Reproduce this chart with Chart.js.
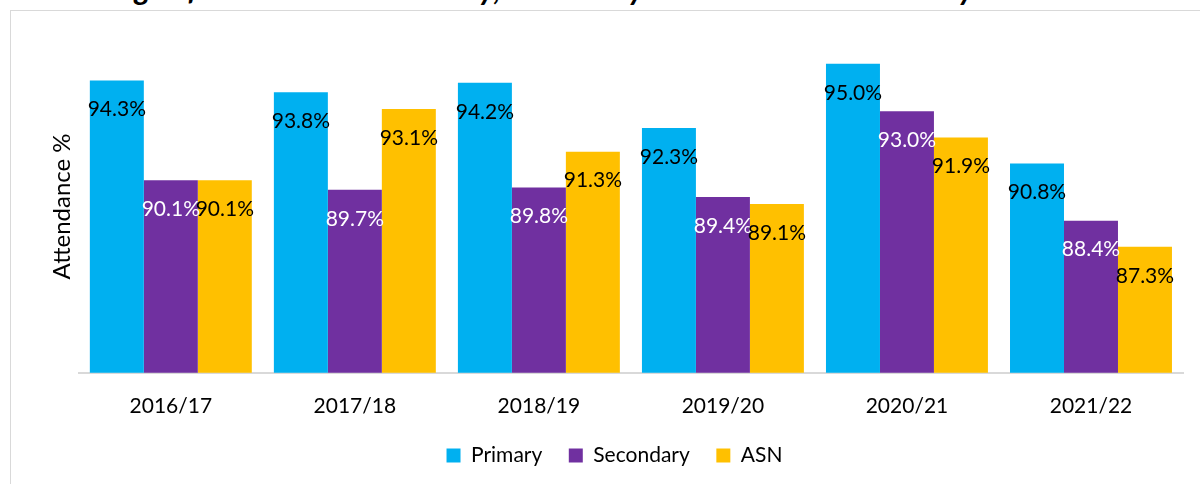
<!DOCTYPE html>
<html>
<head>
<meta charset="utf-8">
<script src="https://cdn.jsdelivr.net/npm/chart.js@4/dist/chart.umd.min.js"></script>
<style>
  html, body { margin: 0; padding: 0; background: #fff; overflow: hidden; }
  #wrap { position: relative; width: 1200px; height: 484px; overflow: hidden; }
  #frame { position: absolute; left: 10px; top: 10px; width: 1300px; height: 600px; border: 1px solid #d9d9d9; box-sizing: border-box; }
  #title { position: absolute; left: 19px; top: -31px; line-height: 31px; font: italic bold 31px Lato, sans-serif; color: #000; white-space: nowrap; }
  #attendanceChart { position: absolute; left: 0; top: 0; }
</style>
</head>
<body>
<div id="wrap">
  <div id="title">Percentage of Attendance in Primary, Secondary and ASN schools over 6 years</div>
  <div id="frame"></div>
  <canvas id="attendanceChart" width="1200" height="484"></canvas>
</div>
<script>
const YEARS = ['2016/17', '2017/18', '2018/19', '2019/20', '2020/21', '2021/22'];
const PRIMARY = [94.3, 93.8, 94.2, 92.3, 95.0, 90.8];
const SECONDARY = [90.1, 89.7, 89.8, 89.4, 93.0, 88.4];
const ASN = [90.1, 93.1, 91.3, 89.1, 91.9, 87.3];
const Y_MIN = 82;
const Y_MAX = 96;

const FONT = 'Lato, sans-serif';

// Excel-style "inside end" labels
const barLabels = {
  id: 'barLabels',
  afterDatasetsDraw(chart) {
    const { ctx } = chart;
    ctx.save();
    ctx.font = `21px ${FONT}`;
    ctx.textAlign = 'center';
    ctx.textBaseline = 'middle';
    chart.data.datasets.forEach((ds, i) => {
      const meta = chart.getDatasetMeta(i);
      meta.data.forEach((bar, j) => {
        ctx.fillStyle = ds.labelColor;
        ctx.fillText(ds.data[j].toFixed(1) + '%', bar.x, bar.y + 29);
      });
    });
    ctx.restore();
  },
};

new Chart(document.getElementById('attendanceChart'), {
  type: 'bar',
  data: {
    labels: YEARS,
    datasets: [
      { label: 'Primary', data: PRIMARY, backgroundColor: '#00B0F0', labelColor: '#000' },
      { label: 'Secondary', data: SECONDARY, backgroundColor: '#7030A0', labelColor: '#fff' },
      { label: 'ASN', data: ASN, backgroundColor: '#FFC000', labelColor: '#000' },
    ],
  },
  options: {
    responsive: false,
    animation: false,
    devicePixelRatio: 1,
    categoryPercentage: 0.88,
    barPercentage: 1.0,
    layout: { padding: { left: 46, right: 17, top: 40, bottom: 8 } },
    plugins: {
      tooltip: { enabled: false },
      legend: {
        position: 'bottom',
        labels: {
          boxWidth: 14, boxHeight: 14, padding: 5, color: '#000',
          font: { family: FONT, size: 21 },
          // small padding keeps the legend close to the axis; trailing spaces widen the gaps
          generateLabels(chart) {
            const items = Chart.defaults.plugins.legend.labels.generateLabels(chart);
            return items.map((it, i) => (i < items.length - 1 ? { ...it, text: it.text + '    ' } : it));
          },
        },
      },
    },
    scales: {
      x: {
        grid: { display: false, drawTicks: false },
        border: { color: '#d9d9d9', width: 2 },
        ticks: { color: '#000', padding: 21, font: { family: FONT, size: 21 } },
      },
      y: {
        min: Y_MIN,
        max: Y_MAX,
        grid: { display: false, drawTicks: false },
        border: { display: false },
        ticks: { display: false },
        title: { display: true, text: 'Attendance %', color: '#000', font: { family: FONT, size: 24 }, padding: { top: 2, bottom: 2 } },
      },
    },
  },
  plugins: [barLabels],
});
</script>
</body>
</html>
